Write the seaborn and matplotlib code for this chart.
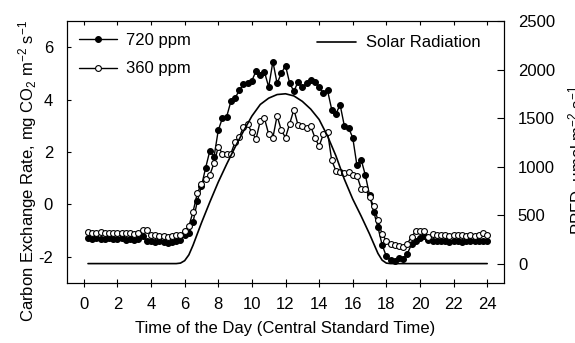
import numpy as np
import pandas as pd
import matplotlib
matplotlib.use("Agg")
import matplotlib.pyplot as plt
import seaborn as sns

# ---------------- data ----------------
hours = np.arange(0.25, 24.01, 0.25)  # 15-minute sampling times, 0.25 .. 24

cer_720 = [
    -1.30, -1.33, -1.30, -1.32, -1.31, -1.30, -1.33, -1.32,
    -1.30, -1.34, -1.32, -1.35, -1.31, -1.22, -1.40, -1.38,
    -1.42, -1.40, -1.45, -1.47, -1.42, -1.40, -1.36, -1.16,
    -1.10, -0.68, 0.12, 0.70, 1.40, 2.05, 1.82, 2.83,
    3.30, 3.35, 3.93, 4.05, 4.36, 4.58, 4.62, 4.72,
    5.10, 4.93, 5.05, 4.48, 5.45, 4.62, 5.00, 5.30,
    4.62, 4.32, 4.68, 4.48, 4.62, 4.76, 4.68, 4.48,
    4.25, 4.35, 3.62, 3.46, 3.80, 3.00, 2.92, 2.55,
    1.49, 1.71, 1.12, 0.35, -0.29, -0.87, -1.55, -1.98,
    -2.12, -2.17, -2.05, -2.08, -1.88, -1.52, -1.40, -1.28,
    -1.20, -1.35, -1.38, -1.40, -1.38, -1.40, -1.42, -1.38,
    -1.40, -1.43, -1.40, -1.38, -1.40, -1.41, -1.39, -1.40,
]

cer_360 = [
    -1.06, -1.08, -1.10, -1.07, -1.09, -1.10, -1.08, -1.10,
    -1.09, -1.11, -1.08, -1.12, -1.10, -0.98, -0.98, -1.16,
    -1.18, -1.20, -1.22, -1.25, -1.20, -1.18, -1.15, -1.00,
    -0.83, -0.28, 0.42, 0.79, 0.98, 1.13, 1.58, 2.19,
    1.94, 1.94, 1.94, 2.38, 2.57, 2.95, 3.05, 2.75,
    2.50, 3.19, 3.28, 2.68, 2.55, 3.38, 2.83, 2.55,
    3.08, 3.62, 3.02, 3.00, 2.90, 2.98, 2.55, 2.22,
    2.68, 2.77, 1.68, 1.28, 1.24, 1.21, 1.24, 1.12,
    1.10, 0.60, 0.60, 0.28, -0.07, -0.60, -1.14, -1.38,
    -1.53, -1.56, -1.60, -1.62, -1.50, -1.23, -1.03, -1.02,
    -1.02, -1.25, -1.12, -1.15, -1.18, -1.16, -1.20, -1.17,
    -1.18, -1.15, -1.19, -1.17, -1.20, -1.16, -1.10, -1.18,
]

solar_hours = [0.25, 5.5, 5.75, 6.0, 6.25, 6.5, 6.75, 7.0, 7.5, 8.0, 8.5, 9.0,
               9.5, 10.0, 10.5, 11.0, 11.5, 12.0, 12.5, 13.0, 13.5, 14.0, 14.5,
               15.0, 15.5, 16.0, 16.5, 17.0, 17.25, 17.5, 17.75, 18.0, 18.25, 24.0]
solar_ppfd = [0, 0, 5, 30, 90, 190, 305, 420, 635, 840, 1025, 1200,
              1365, 1520, 1640, 1705, 1742, 1750, 1728, 1672, 1592, 1485, 1315,
              1110, 870, 665, 490, 305, 205, 105, 35, 5, 0, 0]

series_labels = ["720 ppm", "360 ppm"]
solar_label = "Solar Radiation"
x_ticks = [0, 2, 4, 6, 8, 10, 12, 14, 16, 18, 20, 22, 24]
y_ticks = [-2, 0, 2, 4, 6]
ppfd_ticks = [0, 500, 1000, 1500, 2000, 2500]

# ---------------- style ----------------
sns.set_style("ticks")
plt.rcParams["font.family"] = ["Liberation Sans", "DejaVu Sans"]
plt.rcParams["mathtext.fontset"] = "custom"
plt.rcParams["mathtext.rm"] = "Liberation Sans"
plt.rcParams["mathtext.it"] = "Liberation Sans:italic"
plt.rcParams["mathtext.default"] = "regular"
plt.rcParams["axes.unicode_minus"] = False
plt.rcParams["axes.edgecolor"] = "black"
plt.rcParams["axes.linewidth"] = 0.8
plt.rcParams["xtick.color"] = "black"
plt.rcParams["ytick.color"] = "black"
plt.rcParams["text.color"] = "black"
plt.rcParams["axes.labelcolor"] = "black"

FS = 12
W, H = 575, 343
fig = plt.figure(figsize=(W / 100, H / 100), dpi=100)
ax = fig.add_axes([67 / W, 1 - 283 / H, (504 - 67) / W, (283 - 21) / H])

df = pd.DataFrame({"hour": hours, "c720": cer_720, "c360": cer_360})
sns.lineplot(data=df, x="hour", y="c720", ax=ax, color="black", lw=1.0,
             marker="o", markersize=4.2, markerfacecolor="black",
             markeredgecolor="black", markeredgewidth=0.8, estimator=None)
sns.lineplot(data=df, x="hour", y="c360", ax=ax, color="black", lw=1.0,
             marker="o", markersize=4.2, markerfacecolor="white",
             markeredgecolor="black", markeredgewidth=0.8, estimator=None)
l720, l360 = ax.lines[0], ax.lines[1]

ax2 = ax.twinx()
sns.lineplot(x=solar_hours, y=solar_ppfd, ax=ax2, color="black", lw=1.2,
             estimator=None)
lsolar = ax2.lines[0]

ax.set_xlim(-1, 25)
ax.set_ylim(-3, 7)
ax2.set_ylim(-200, 2500)
ax.set_xticks(x_ticks)
ax.set_yticks(y_ticks)
ax2.set_yticks(ppfd_ticks)

ax.tick_params(axis="x", direction="inout", length=6, width=0.8, top=False,
               labelsize=FS, pad=7)
ax.tick_params(axis="y", direction="in", length=3, width=0.8, labelsize=FS, pad=10)
ax2.tick_params(axis="y", direction="in", length=5, width=0.8, labelsize=FS, pad=10)
ax2.xaxis.set_visible(True)
ax2.tick_params(axis="x", bottom=False, top=True, labelbottom=False,
                labeltop=False, direction="in", length=3, width=0.8)

ax.set_xlabel("Time of the Day (Central Standard Time)", fontsize=FS)
ax.set_ylabel("Carbon Exchange Rate, mg CO$_2$ m$^{-2}$ s$^{-1}$", fontsize=FS)
ax2.set_ylabel("PPFD, \u03bcmol m$^{-2}$ s$^{-1}$", fontsize=FS)
ax.xaxis.set_label_coords(0.5, -0.145)
ax.yaxis.set_label_coords(-0.064, 0.427)
ax2.yaxis.set_label_coords(1.142, 0.47)

leg1 = ax2.legend([l720, l360], series_labels, loc="upper left",
                  bbox_to_anchor=(0.027, 0.955), frameon=False, fontsize=FS,
                  handlelength=2.3, handletextpad=0.55, labelspacing=0.82,
                  borderpad=0, borderaxespad=0)
ax2.add_artist(leg1)
ax2.legend([lsolar], [solar_label], loc="upper left",
           bbox_to_anchor=(0.573, 0.945), frameon=False, fontsize=FS,
           handlelength=2.3, handletextpad=0.6, borderpad=0, borderaxespad=0)

fig.savefig("out.png", dpi=100)
